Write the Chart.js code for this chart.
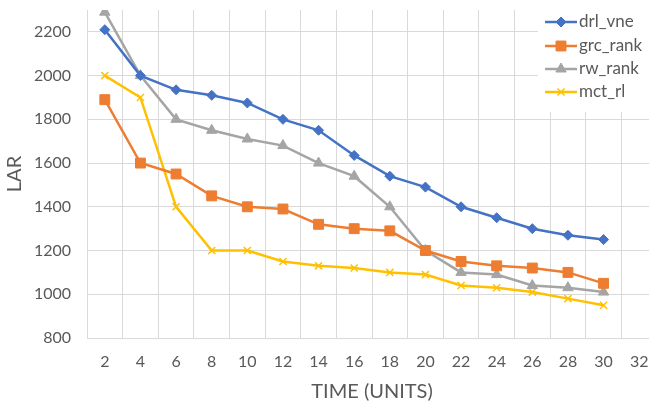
<!DOCTYPE html>
<html>
<head>
<meta charset="utf-8">
<script src="https://cdn.jsdelivr.net/npm/chart.js@4/dist/chart.umd.min.js"></script>
<style>
  html, body { margin: 0; padding: 0; background: #fff; overflow: hidden; }
  #wrap { width: 649px; height: 404px; overflow: hidden; }
</style>
</head>
<body>
<div id="wrap"><canvas id="larChart" width="665" height="404"></canvas></div>
<script>
// x categories (time units)
const timeLabels = ['2', '4', '6', '8', '10', '12', '14', '16', '18', '20', '22', '24', '26', '28', '30', '32'];
const yTicks = [800, 1000, 1200, 1400, 1600, 1800, 2000, 2200];

// series
const drlVne = [2210, 2000, 1935, 1910, 1875, 1800, 1750, 1635, 1540, 1490, 1400, 1350, 1300, 1270, 1250];
const grcRank = [1890, 1600, 1550, 1450, 1400, 1390, 1320, 1300, 1290, 1200, 1150, 1130, 1120, 1100, 1050];
const rwRank = [2290, 2000, 1800, 1750, 1710, 1680, 1600, 1540, 1400, 1200, 1100, 1090, 1040, 1030, 1010];
const mctRl = [2000, 1900, 1400, 1200, 1200, 1150, 1130, 1120, 1100, 1090, 1040, 1030, 1010, 980, 950];

const textColor = '#595959';
const gridColor = '#D9D9D9';
const fontFamily = 'Lato, "Open Sans", sans-serif';

const makeSeries = (label, data, color, pointStyle, radius) => ({
    label,
    data,
    borderColor: color,
    backgroundColor: color,
    borderWidth: 2.5,
    pointStyle,
    pointRadius: radius,
    pointHoverRadius: radius,
    pointBorderWidth: pointStyle === 'crossRot' ? 1.5 : 1,
    tension: 0,
    fill: false,
});

// Excel-like legend: line + marker, on a white box over the grid
const sideLegend = {
    id: 'sideLegend',
    afterDraw(chart) {
        const ctx = chart.ctx;
        ctx.save();
        ctx.fillStyle = '#fff';
        ctx.fillRect(538, 0, chart.width - 538, 112);
        const rows = [22, 46, 69, 92];
        chart.data.datasets.forEach((ds, i) => {
            const y = rows[i];
            ctx.strokeStyle = ds.borderColor;
            ctx.lineWidth = ds.borderWidth;
            ctx.beginPath();
            ctx.moveTo(545, y);
            ctx.lineTo(577, y);
            ctx.stroke();
            ctx.fillStyle = ds.backgroundColor;
            ctx.strokeStyle = ds.borderColor;
            ctx.lineWidth = ds.pointBorderWidth;
            Chart.helpers.drawPoint(ctx, { pointStyle: ds.pointStyle, radius: ds.pointRadius, rotation: 0, borderWidth: ds.pointBorderWidth }, 561, y);
            ctx.fillStyle = textColor;
            ctx.font = '17px ' + fontFamily;
            ctx.textAlign = 'left';
            ctx.textBaseline = 'middle';
            ctx.fillText(ds.label, 579, y);
        });
        ctx.restore();
    }
};

new Chart(document.getElementById('larChart'), {
    type: 'line',
    data: {
        labels: timeLabels,
        datasets: [
            makeSeries('drl_vne', drlVne, '#4472C4', 'rectRot', 5),
            makeSeries('grc_rank', grcRank, '#ED7D31', 'rect', 7),
            makeSeries('rw_rank', rwRank, '#A5A5A5', 'triangle', 6),
            makeSeries('mct_rl', mctRl, '#FFC000', 'crossRot', 5),
        ],
    },
    options: {
        responsive: false,
        devicePixelRatio: 1,
        animation: false,
        layout: { padding: { top: 10, right: 7, bottom: 0, left: 0 } },
        plugins: {
            legend: { display: false },
            tooltip: { enabled: false },
        },
        scales: {
            x: {
                type: 'category',
                offset: true,
                grid: { color: gridColor, lineWidth: 1, offset: true, drawTicks: false },
                border: { color: gridColor },
                ticks: { color: textColor, font: { family: fontFamily, size: 16 }, padding: 14, maxRotation: 0, autoSkip: false },
                title: { display: true, text: 'TIME (UNITS)', color: textColor, font: { family: fontFamily, size: 20 }, padding: { top: 0, bottom: 0 } },
                afterFit: s => { s.height = 66; s.paddingLeft = 0; s.paddingRight = 0; },
            },
            y: {
                min: 800,
                max: 2300,
                afterBuildTicks: s => { s.ticks = yTicks.map(v => ({ value: v })); },
                grid: { color: gridColor, lineWidth: 1, drawTicks: false },
                border: { display: false },
                ticks: { color: textColor, font: { family: fontFamily, size: 16 }, padding: 16, callback: v => String(v) },
                title: { display: true, text: 'LAR', color: textColor, font: { family: fontFamily, size: 20 }, padding: { top: 3, bottom: 0 } },
                afterFit: s => { s.width = 87; s.paddingTop = 0; s.paddingBottom = 0; },
            },
        },
    },
    plugins: [sideLegend],
});
</script>
</body>
</html>
